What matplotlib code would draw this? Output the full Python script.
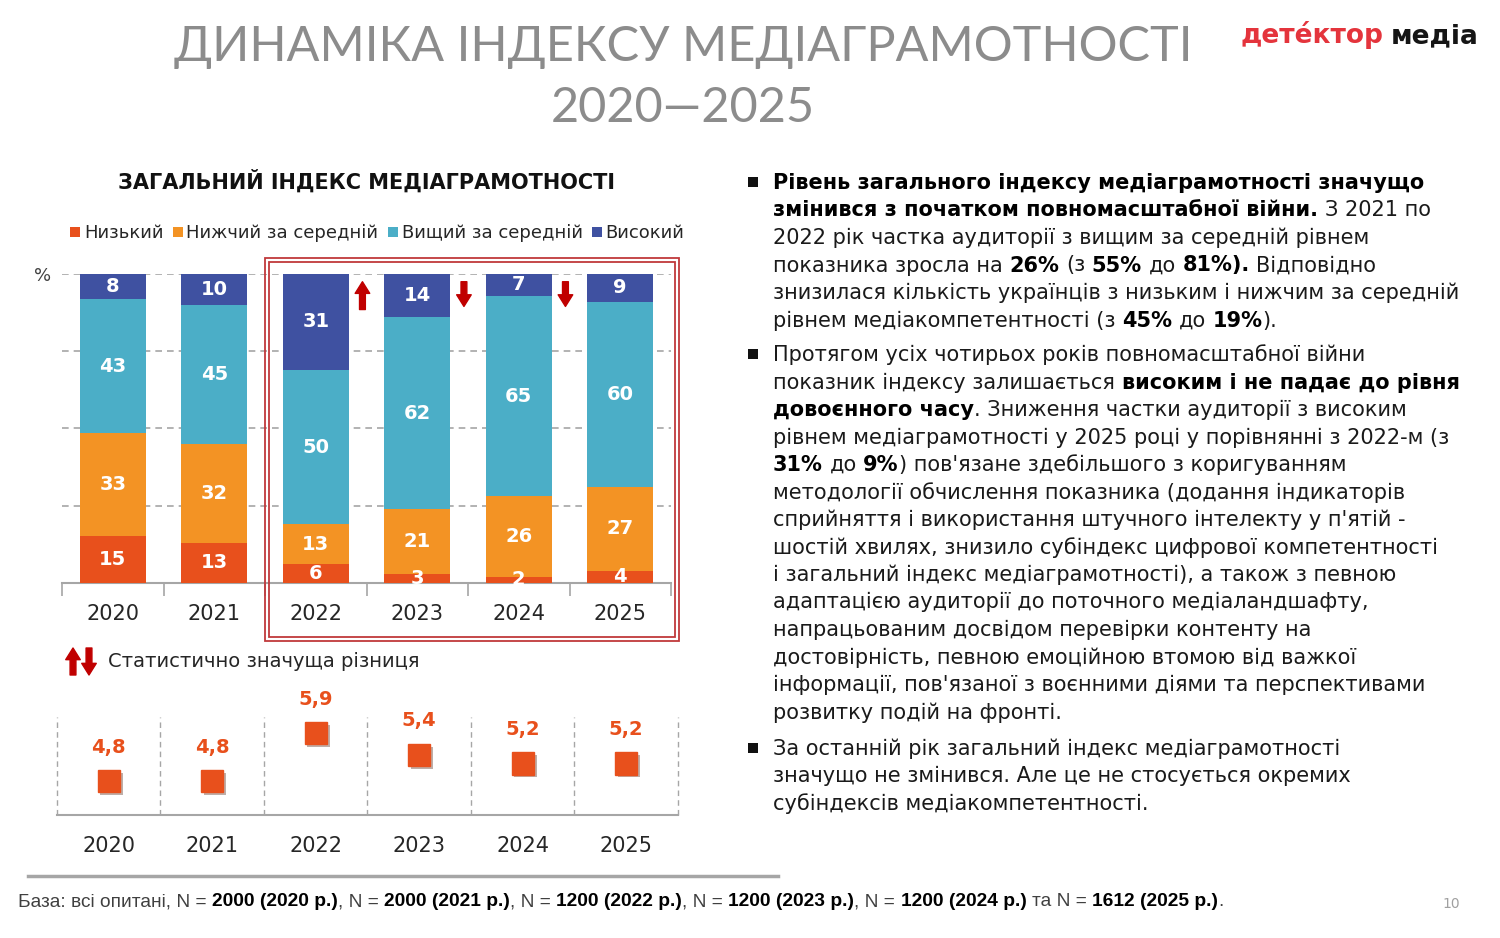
import numpy as np
import matplotlib
matplotlib.use('Agg')
import matplotlib.pyplot as plt
from matplotlib import patheffects as pe
from matplotlib.patches import Rectangle, FancyArrowPatch
from matplotlib.lines import Line2D
from matplotlib.font_manager import FontProperties

# %%
# Data
years = ['2020', '2021', '2022', '2023', '2024', '2025']
levels = ['Низький', 'Нижчий за середній', 'Вищий за середній', 'Високий']
low = [15, 13, 6, 3, 2, 4]
below_avg = [33, 32, 13, 21, 26, 27]
above_avg = [43, 45, 50, 62, 65, 60]
high = [8, 10, 31, 14, 7, 9]
index_vals = [4.8, 4.8, 5.9, 5.4, 5.2, 5.2]
index_labels = ['4,8', '4,8', '5,9', '5,4', '5,2', '5,2']
# statistically significant changes, arrow placed right of the year bar
sig_changes = [(2, 'up'), (3, 'down'), (4, 'down')]

colors = ['#E8501C', '#F39324', '#4BAEC7', '#3F51A1']
arrow_red = '#C00000'
body_font = 'DejaVu Sans'

W, H = 1500, 938
fig = plt.figure(figsize=(W / 100, H / 100), dpi=100)
renderer = fig.canvas.get_renderer()


def fx(x):
    return x / W


def fy(y):
    return 1 - y / H


def text_w(s, size, bold, family=body_font):
    fp = FontProperties(family=family, size=size,
                        weight='bold' if bold else 'normal')
    w1 = renderer.get_text_width_height_descent('|' + s + '|', fp, ismath=False)[0]
    w0 = renderer.get_text_width_height_descent('||', fp, ismath=False)[0]
    return w1 - w0


def rich_line(x, y, parts, size, color='#1A1A1A', bold_color=None,
              family=body_font):
    # parts: list of (text, is_bold); y is the baseline in pixels from top
    for s, b in parts:
        sp = text_w(' ', size, b, family)
        lead = len(s) - len(s.lstrip(' '))
        trail = len(s) - len(s.rstrip(' '))
        core = s.strip(' ')
        x += lead * sp
        if core:
            fig.text(fx(x), fy(y), core, fontsize=size, family=family,
                     fontweight='bold' if b else 'normal',
                     color=(bold_color or color) if b else color,
                     ha='left', va='baseline')
            x += text_w(core, size, b, family)
        x += trail * sp
    return x


# %%
# Titles and logo
fig.text(fx(683), fy(47), 'ДИНАМІКА ІНДЕКСУ МЕДІАГРАМОТНОСТІ', ha='center',
         va='center', fontsize=35, color='#8C8C8C', family='Lato')
fig.text(fx(683), fy(108), '2020—2025', ha='center', va='center',
         fontsize=35, color='#8C8C8C', family='Lato')

lx = rich_line(1240, 43, [('детéктор', True)], 19, color='#E4343C')
rich_line(lx + 8, 43, [('медіа', True)], 19, color='#151515')

fig.text(fx(366), fy(181), 'ЗАГАЛЬНИЙ ІНДЕКС МЕДІАГРАМОТНОСТІ', ha='center',
         va='center', fontsize=15, fontweight='bold', color='#111111',
         family=body_font)

# legend
cx = 70
for lab, c in zip(levels, colors):
    fig.add_artist(Rectangle((fx(cx), fy(237)), 10 / W, 10 / H,
                             transform=fig.transFigure, color=c, lw=0))
    cx += 14
    fig.text(fx(cx), fy(238), lab, fontsize=13, family=body_font,
             color='#262626', ha='left', va='baseline')
    cx += text_w(lab, 13, False) + 9

fig.text(fx(43), fy(276), '%', fontsize=13, color='#404040', ha='center',
         va='center', family=body_font)

# %%
# Stacked 100% bar chart
ax = fig.add_axes([fx(62), fy(583), (671 - 62) / W, (583 - 274) / H])
x = np.arange(len(years))
series = np.array([low, below_avg, above_avg, high], dtype=float)
shares = series / series.sum(axis=0) * 100
bottom = np.zeros(len(years))
for i in range(len(levels)):
    ax.bar(x, shares[i], bottom=bottom, width=0.65, color=colors[i],
           zorder=3, lw=0)
    for xi, b, h, v in zip(x, bottom, shares[i], series[i]):
        ax.text(xi, b + h / 2, f'{v:.0f}', ha='center', va='center',
                color='white', fontsize=14, fontweight='bold', zorder=4,
                family=body_font)
    bottom += shares[i]

for pos, d in sig_changes:
    xa = pos + 0.46
    tail, tip = (88.5, 97.5) if d == 'up' else (97.5, 89.5)
    ax.annotate('', xy=(xa, tip), xytext=(xa, tail),
                arrowprops=dict(arrowstyle='simple,head_length=0.6,'
                                'head_width=0.75,tail_width=0.3',
                                color=arrow_red, shrinkA=0, shrinkB=0,
                                mutation_scale=14), zorder=5)

ax.set_xlim(-0.5, len(years) - 0.5)
ax.set_ylim(0, 100)
ax.set_yticks([25, 50, 75, 100])
ax.yaxis.grid(True, ls=(0, (4, 3)), color='#A6A6A6', lw=1.2, zorder=0)
ax.tick_params(axis='y', length=0, labelleft=False)
ax.set_xticks(x)
ax.set_xticklabels(years, fontsize=15, color='#262626', family=body_font)
ax.set_xticks(np.arange(-0.5, len(years), 1), minor=True)
ax.tick_params(axis='x', which='major', length=0, pad=15)
ax.tick_params(axis='x', which='minor', length=9, color='#A6A6A6', width=1.2)
for s in ['top', 'left', 'right']:
    ax.spines[s].set_visible(False)
ax.spines['bottom'].set_color('#A6A6A6')
ax.spines['bottom'].set_linewidth(1.5)
ax.set_facecolor('none')

# double red frame round the war years
for (x0, y0, x1, y1) in [(265, 258, 679, 641), (269, 262, 675, 637)]:
    fig.add_artist(Rectangle((fx(x0), fy(y1)), (x1 - x0) / W, (y1 - y0) / H,
                             transform=fig.transFigure, fill=False,
                             ec='#C0393B', lw=1.3))

# significance legend
for xa, d in [(73, 'up'), (89, 'down')]:
    tail, tip = (675, 648) if d == 'up' else (648, 675)
    fig.add_artist(FancyArrowPatch(
        (xa, H - tail), (xa, H - tip), transform=None,
        arrowstyle='simple,head_length=0.6,head_width=0.75,tail_width=0.3',
        color=arrow_red, mutation_scale=14, shrinkA=0, shrinkB=0))
fig.text(fx(108), fy(661), 'Статистично значуща різниця', fontsize=14,
         family=body_font, color='#262626', ha='left', va='center')

# %%
# Index values chart
ax2 = fig.add_axes([fx(57), fy(815), (678 - 57) / W, (815 - 717) / H])
ax2.plot(x, index_vals, 's', ms=16, color=colors[0], zorder=3,
         path_effects=[pe.SimplePatchShadow(offset=(2, -2), alpha=0.35),
                       pe.Normal()])
for xi, v, lab in zip(x, index_vals, index_labels):
    ax2.annotate(lab, (xi, v), xytext=(0, 34), textcoords='offset pixels',
                 ha='center', va='center', color=colors[0], fontsize=14,
                 fontweight='bold', family=body_font, annotation_clip=False)
ax2.set_xlim(-0.5, len(years) - 0.5)
ax2.set_ylim(4.8 - 34 / 43.6, 4.8 + 98 / 43.6 - 34 / 43.6)
ax2.set_yticks([])
ax2.set_xticks(x)
ax2.set_xticklabels(years, fontsize=15, color='#262626', family=body_font)
ax2.tick_params(axis='x', length=0, pad=15)
for b in np.arange(-0.5, len(years), 1):
    ax2.axvline(b, color='#A6A6A6', ls=(0, (4, 3)), lw=1, zorder=1,
                clip_on=False)
for s in ['top', 'left', 'right']:
    ax2.spines[s].set_visible(False)
ax2.spines['bottom'].set_color('#A6A6A6')
ax2.spines['bottom'].set_linewidth(1.5)
ax2.set_facecolor('none')

# %%
# Commentary on the right
B = True
N = False
para1 = [
    [('Рівень загального індексу медіаграмотності значущо', B)],
    [('змінився з початком повномасштабної війни.', B), (' З 2021 по', N)],
    [('2022 рік частка аудиторії з вищим за середній рівнем', N)],
    [('показника зросла на ', N), ('26%', B), (' (з ', N), ('55%', B),
     (' до ', N), ('81%).', B), (' Відповідно', N)],
    [('знизилася кількість українців з низьким і нижчим за середній', N)],
    [('рівнем медіакомпетентності (з ', N), ('45%', B), (' до ', N),
     ('19%', B), (').', N)],
]
para2 = [
    [('Протягом усіх чотирьох років повномасштабної війни', N)],
    [('показник індексу залишається ', N), ('високим і не падає до рівня', B)],
    [('довоєнного часу', B), ('. Зниження частки аудиторії з високим', N)],
    [('рівнем медіаграмотності у 2025 році у порівнянні з 2022-м (з', N)],
    [('31%', B), (' до ', N), ('9%', B),
     (') пов\'язане здебільшого з коригуванням', N)],
    [('методології обчислення показника (додання індикаторів', N)],
    [('сприйняття і використання штучного інтелекту у п\'ятій -', N)],
    [('шостій хвилях, знизило субіндекс цифрової компетентності', N)],
    [('і загальний індекс медіаграмотності), а також з певною', N)],
    [('адаптацією аудиторії до поточного медіаландшафту,', N)],
    [('напрацьованим досвідом перевірки контенту на', N)],
    [('достовірність, певною емоційною втомою від важкої', N)],
    [('інформації, пов\'язаної з воєнними діями та перспективами', N)],
    [('розвитку подій на фронті.', N)],
]
para3 = [
    [('За останній рік загальний індекс медіаграмотності', N)],
    [('значущо не змінився. Але це не стосується окремих', N)],
    [('субіндексів медіакомпетентності.', N)],
]
body_size = 15
for para, y0 in [(para1, 189), (para2, 361), (para3, 755)]:
    fig.add_artist(Rectangle((fx(748), fy(y0 - 2)), 10 / W, 10 / H,
                             transform=fig.transFigure, color='#111111', lw=0))
    for k, line in enumerate(para):
        rich_line(773, y0 + k * 27.5, line, body_size, color='#1A1A1A',
                  bold_color='#000000')

# %%
# Footnote
fig.add_artist(Line2D([fx(28), fx(778)], [fy(876), fy(876)], color='#A6A6A6',
                      lw=2.5, transform=fig.transFigure))
foot = [('База: всі опитані, N = ', N), ('2000 (2020 р.)', B), (', N = ', N),
        ('2000 (2021 р.)', B), (', N = ', N), ('1200 (2022 р.)', B),
        (', N = ', N), ('1200 (2023 р.)', B), (', N = ', N),
        ('1200 (2024 р.)', B), (' та N = ', N), ('1612 (2025 р.)', B),
        ('.', N)]
rich_line(18, 906, foot, 13.8, color='#404040', bold_color='#000000',
          family='Liberation Sans')
fig.text(fx(1451), fy(904), '10', fontsize=10, color='#A0A0A0', ha='center',
         va='center', family=body_font)

fig.savefig('out.png', dpi=100)
